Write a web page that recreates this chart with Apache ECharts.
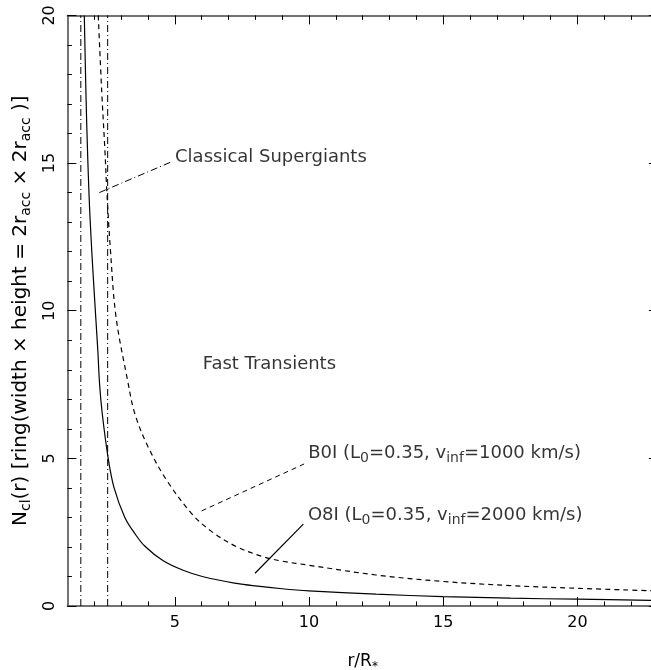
<!DOCTYPE html>
<html>
<head>
<meta charset="utf-8">
<script src="https://cdn.jsdelivr.net/npm/echarts@6/dist/echarts.min.js"></script>
<style>
html,body{margin:0;padding:0;background:#fff;}
#chart{width:651px;height:670px;}
</style>
</head>
<body>
<div id="chart"></div>
<script>
// ---- data ----
const o8iX = [1.63, 1.69, 1.75, 1.84, 1.98, 2.13, 2.20, 2.30, 2.52, 2.74, 3.14, 3.50, 3.88, 4.57, 5.31, 6.06, 7.30, 8.00, 9.00, 10.0, 12.5, 15.0, 17.5, 20.0, 23.0];
const o8iY = [20.0, 17.4, 15.4, 13.2, 10.9, 8.7, 7.5, 6.5, 5.0, 4.0, 3.0, 2.47, 2.03, 1.53, 1.21, 0.99, 0.765, 0.68, 0.585, 0.515, 0.40, 0.32, 0.265, 0.23, 0.19];
const b0iX = [2.15, 2.28, 2.40, 2.46, 2.60, 2.81, 3.24, 3.51, 4.00, 4.69, 5.62, 6.30, 7.30, 8.29, 9.00, 10.0, 12.5, 15.0, 17.5, 20.0, 23.0];
const b0iY = [20.0, 17.4, 15.4, 14.2, 12.1, 9.8, 7.65, 6.52, 5.40, 4.27, 3.14, 2.57, 2.01, 1.67, 1.52, 1.38, 1.05, 0.83, 0.69, 0.60, 0.51];
const classicalLimits = [1.5, 2.5];
const xMajorTicks = [5, 10, 15, 20];
const xMinorTicks = [2, 3, 4, 6, 7, 8, 9, 11, 12, 13, 14, 16, 17, 18, 19, 21, 22];
const yTicks = [0, 5, 10, 15, 20];
// annotation leader lines (data coords)
const classicalLeaderX = [2.19, 4.9];
const classicalLeaderY = [14.0, 15.05];
const b0iLeaderX = [6.0, 9.82];
const b0iLeaderY = [3.22, 4.81];
const o8iLeaderX = [7.99, 9.79];
const o8iLeaderY = [1.11, 2.77];
// annotation texts
const noteTexts = ['Classical Supergiants', 'Fast Transients',
  'B0I (L{s|0}=0.35, v{s|inf}=1000 km/s)', 'O8I (L{s|0}=0.35, v{s|inf}=2000 km/s)'];
const noteX = [5.01, 6.04, 9.97, 9.96];
const noteY = [15.2, 8.17, 5.18, 3.08];

const FONT = 'DejaVu Sans';
const zip = (xs, ys) => xs.map((x, i) => [x, ys[i]]);
const mkRich = (big, small) => ({
  m: {fontFamily: FONT, fontSize: big, color: '#000', lineHeight: big + 6},
  s: {fontFamily: FONT, fontSize: small, color: '#000', lineHeight: small, verticalAlign: 'bottom'}
});
const AXC = '#444';

const baseX = {type: 'value', min: 1, max: 23, splitLine: {show: false}};
const chart = echarts.init(document.getElementById('chart'), null, {renderer: 'canvas'});
const option = {
  animation: false,
  backgroundColor: '#fff',
  grid: {left: 67.4, right: -6.9, top: 15.4, bottom: 64, outerBoundsMode: 'none', containLabel: false},
  xAxis: [
    Object.assign({}, baseX, {
      position: 'bottom',
      axisLine: {show: true, lineStyle: {color: AXC, width: 1.5}},
      axisTick: {show: true, inside: true, length: 9, customValues: xMajorTicks, lineStyle: {color: '#000', width: 1}},
      axisLabel: {show: true, customValues: xMajorTicks, fontFamily: FONT, fontSize: 16, color: '#000', margin: 9},
      name: 'r/R{s|*}',
      nameLocation: 'middle',
      nameGap: 44,
      nameTextStyle: {fontFamily: FONT, fontSize: 17, color: '#000', lineHeight: 23, rich: mkRich(17, 12)}
    }),
    Object.assign({}, baseX, {
      position: 'bottom',
      axisLine: {show: false},
      axisTick: {show: true, inside: true, length: 4.5, customValues: xMinorTicks, lineStyle: {color: '#000', width: 1}},
      axisLabel: {show: false}
    }),
    Object.assign({}, baseX, {
      position: 'top',
      axisLine: {show: true, lineStyle: {color: AXC, width: 1.5}},
      axisTick: {show: true, inside: true, length: 9, customValues: xMajorTicks, lineStyle: {color: '#000', width: 1}},
      axisLabel: {show: false}
    }),
    Object.assign({}, baseX, {
      position: 'top',
      axisLine: {show: false},
      axisTick: {show: true, inside: true, length: 4.5, customValues: xMinorTicks, lineStyle: {color: '#000', width: 1}},
      axisLabel: {show: false}
    })
  ],
  yAxis: [
    {
      type: 'value', min: 0, max: 20, interval: 5, position: 'left',
      splitLine: {show: false},
      axisLine: {show: true, lineStyle: {color: AXC, width: 1.5}},
      axisTick: {show: true, inside: true, length: 9, lineStyle: {color: '#000', width: 1}},
      minorTick: {show: true, splitNumber: 5, length: 4.5, lineStyle: {color: '#000', width: 1}},
      axisLabel: {show: true, rotate: 90, fontFamily: FONT, fontSize: 16, color: '#000', margin: 10},
      name: '{m|N}{s|cl}{m|(r) [ring(width × height = 2r}{s|acc}{m| × 2r}{s|acc}{m| )]}',
      nameLocation: 'middle',
      nameRotate: 90,
      nameGap: 27,
      nameTextStyle: {fontFamily: FONT, fontSize: 20, color: '#000', lineHeight: 26, rich: mkRich(20, 14)}
    },
    {
      type: 'value', min: 0, max: 20, interval: 5, position: 'right',
      splitLine: {show: false},
      axisLine: {show: true, lineStyle: {color: AXC, width: 1.5}},
      axisTick: {show: true, inside: true, length: 9, lineStyle: {color: '#000', width: 1}},
      minorTick: {show: true, splitNumber: 5, length: 4.5, lineStyle: {color: '#000', width: 1}},
      axisLabel: {show: false}
    }
  ],
  series: [
    {
      name: 'O8I', type: 'line', data: zip(o8iX, o8iY), showSymbol: false, smooth: 0.35,
      clip: true, lineStyle: {color: '#000', width: 1.2, type: 'solid'}
    },
    {
      name: 'B0I', type: 'line', data: zip(b0iX, b0iY), showSymbol: false, smooth: 0.35,
      clip: true, lineStyle: {color: '#000', width: 1.2, type: [5, 4]}
    },
    ...classicalLimits.map(v => ({
      type: 'line', data: [[v, yTicks[0]], [v, yTicks[yTicks.length - 1]]], showSymbol: false,
      lineStyle: {color: '#000', width: 1, type: [7, 3, 1, 3]}
    })),
    {
      type: 'line', data: zip(classicalLeaderX, classicalLeaderY), showSymbol: false,
      lineStyle: {color: '#000', width: 1, type: [7, 3, 1, 3]}
    },
    {
      type: 'line', data: zip(b0iLeaderX, b0iLeaderY), showSymbol: false,
      lineStyle: {color: '#000', width: 1, type: [5, 4]}
    },
    {
      type: 'line', data: zip(o8iLeaderX, o8iLeaderY), showSymbol: false,
      lineStyle: {color: '#000', width: 1.2, type: 'solid'}
    },
    {
      type: 'scatter', symbolSize: 0,
      data: noteX.map((x, i) => [x, noteY[i], noteTexts[i]]),
      label: {
        show: true, position: 'right', distance: 0,
        formatter: p => p.data[2],
        fontFamily: FONT, fontSize: 18, color: '#000', lineHeight: 24,
        rich: mkRich(18, 14)
      }
    }
  ]
};
chart.setOption(option);
</script>
</body>
</html>
